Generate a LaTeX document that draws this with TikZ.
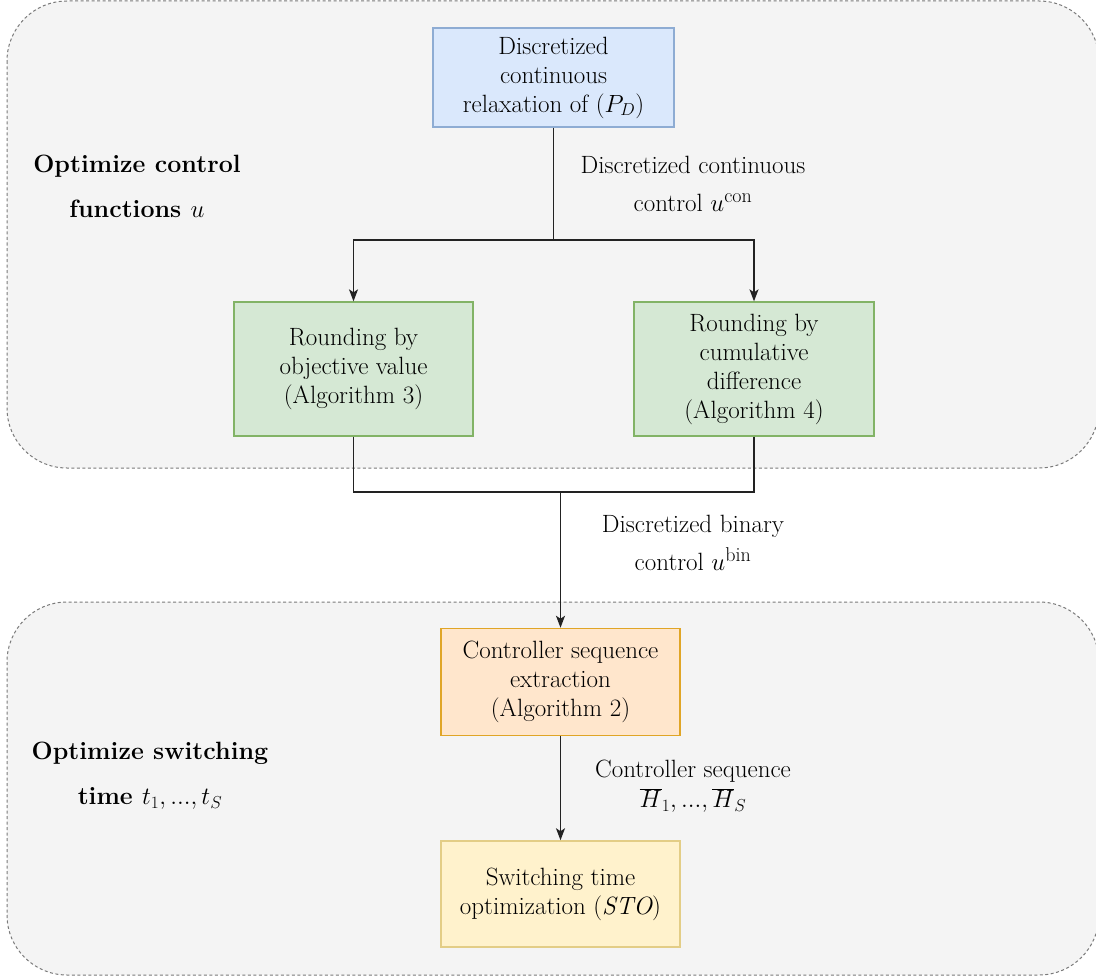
\documentclass[tikz,border=0pt]{standalone}
\usepackage{fontspec}
\usetikzlibrary{arrows.meta}
\definecolor{grpfill}{HTML}{F4F4F4}
\definecolor{grpline}{HTML}{7A7A7A}
\definecolor{bluefill}{HTML}{DAE8FC}
\definecolor{blueline}{HTML}{8EACD3}
\definecolor{greenfill}{HTML}{D5E8D4}
\definecolor{greenline}{HTML}{82B366}
\definecolor{orangefill}{HTML}{FFE6CC}
\definecolor{orangeline}{HTML}{E0A526}
\definecolor{yellowfill}{HTML}{FFF2CC}
\definecolor{yellowline}{HTML}{E3CD86}
\definecolor{edgecol}{HTML}{222222}
\newcommand{\supword}[1]{\hbox{\fontsize{20}{20}\selectfont #1}}
\begin{document}
\begin{tikzpicture}[x=1pt,y=-1pt,
  every node/.style={font=\fontsize{25}{29}\selectfont, inner sep=0pt, align=center},
  grp/.style={draw=grpline, fill=grpfill, dash pattern=on 3pt off 2.5pt, line width=1pt, rounded corners=60pt},
  boxstyle/.style={draw, line width=1.3pt, minimum width=240pt},
  bluebox/.style={boxstyle, fill=bluefill, draw=blueline},
  greenbox/.style={boxstyle, fill=greenfill, draw=greenline},
  orangebox/.style={boxstyle, fill=orangefill, draw=orangeline, line width=1.5pt},
  yellowbox/.style={boxstyle, fill=yellowfill, draw=yellowline, line width=1.5pt},
  conn/.style={draw=edgecol, line width=1.3pt},
  arr/.style={conn, -{Stealth[length=12pt,width=9pt,inset=3pt]}},
  lab/.style={font=\fontsize{25}{29}\selectfont},
  grplab/.style={font=\fontsize{25}{29}\selectfont\bfseries}
]
\useasboundingbox (0,0) rectangle (1096,979);
\fill[white] (0,0) rectangle (1096,979);

% groups
\draw[grp] (7,1) rectangle (1099,468);
\draw[grp] (7,602) rectangle (1099,975);

% boxes
\node[bluebox, minimum width=241pt, minimum height=99pt] (top) at (553.5,77.5)
  {Discretized\\continuous\\relaxation of $(P_D)$};
\node[greenbox, minimum width=239pt, minimum height=134pt] (g1) at (353.5,369)
  {Rounding by\\objective value\\(Algorithm 3)};
\node[greenbox, minimum width=240pt, minimum height=134pt] (g2) at (754,369)
  {Rounding by\\cumulative\\difference\\(Algorithm 4)};
\node[orangebox, minimum width=239pt, minimum height=107pt] (ex) at (560.5,682)
  {Controller sequence\\extraction\\(Algorithm 2)};
\node[yellowbox, minimum width=239pt, minimum height=106pt] (sto) at (560.5,894)
  {Switching time\\optimization $(\mathit{STO})$};

% connectors
\coordinate (split) at (553.5,240);
\coordinate (join) at (560.5,492);
\draw[conn] (top.south) -- (split);
\draw[arr] (split) -| (g1.north);
\draw[arr] (split) -| (g2.north);
\draw[conn] (g1.south) |- (join);
\draw[conn] (g2.south) |- (join);
\draw[arr] (join) -- (ex.north);
\draw[arr] (ex.south) -- (sto.north);

% edge labels
\node[lab] (l1) at (693,184) {Discretized continuous\\[9pt]control $u^{\supword{con}}$};
\node[lab] (l2) at (693,543) {Discretized binary\\[9pt]control $u^{\supword{bin}}$};
\node[lab] (l3) at (693,786) {Controller sequence\\[1pt]$\overline{H}_1, ..., \overline{H}_S$};

% group labels
\node[grplab] (gl1) at (137,186) {Optimize control\\[16pt]functions $u$};
\node[grplab] (gl2) at (150,776) {Optimize switching\\[16pt]time $t_1, ..., t_S$};
\end{tikzpicture}
\end{document}
